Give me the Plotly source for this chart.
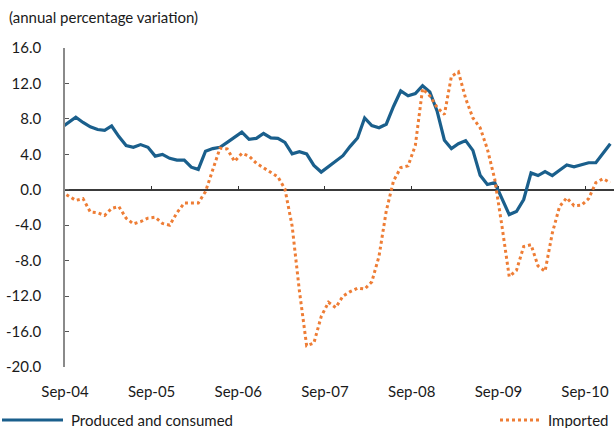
import pandas as pd
import plotly.graph_objects as go

# ---- data (monthly, Aug-04 .. Dec-10) ----
months = pd.date_range("2004-08-01", periods=77, freq="MS")

produced_consumed = [
    7.0, 7.6, 8.2, 7.6, 7.1, 6.8, 6.7, 7.2, 6.0, 5.0, 4.8, 5.1, 4.8,
    3.8, 4.0, 3.55, 3.35, 3.35, 2.55, 2.3, 4.35, 4.65, 4.8, 5.35, 5.95, 6.5,
    5.7, 5.8, 6.35, 5.85, 5.8, 5.35, 4.05, 4.3, 4.05, 2.75, 2.0,
    2.6, 3.2, 3.85, 4.9, 5.85, 8.1, 7.25, 7.0, 7.4, 9.4, 11.15, 10.6,
    10.85, 11.75, 11.05, 8.9, 5.6, 4.65, 5.2, 5.55, 4.45, 1.65, 0.6, 0.8,
    -1.1, -2.8, -2.45, -1.1, 1.9, 1.6, 2.05, 1.6, 2.2, 2.8, 2.6, 2.85,
    3.05, 3.05, 4.15, 5.2,
]

imported = [
    -0.2, -0.7, -1.2, -1.0, -2.5, -2.6, -2.9, -2.1, -1.9, -3.2, -3.85, -3.6, -3.2,
    -3.1, -3.8, -4.0, -2.6, -1.5, -1.5, -1.5, -0.2, 2.3, 4.7, 4.6, 3.2, 4.1,
    3.8, 3.0, 2.5, 1.9, 1.45, 0.1, -4.1, -11.4, -17.6, -17.3, -14.3,
    -12.7, -13.3, -12.0, -11.5, -11.1, -11.2, -10.4, -7.5, -2.4, 1.0, 2.5, 2.7,
    5.0, 11.4, 10.6, 9.3, 8.5, 12.8, 13.3, 10.3, 8.1, 7.0, 4.6, 1.2,
    -4.1, -9.8, -9.1, -6.4, -6.2, -8.6, -9.2, -4.9, -1.9, -0.9, -1.8, -1.75,
    -1.0, 0.8, 1.25, 0.8,
]

x_tick_dates = ["2004-09-01", "2005-09-01", "2006-09-01", "2007-09-01",
                "2008-09-01", "2009-09-01", "2010-09-01"]
x_tick_labels = ["Sep-04", "Sep-05", "Sep-06", "Sep-07", "Sep-08", "Sep-09", "Sep-10"]
y_tick_values = [16, 12, 8, 4, 0, -4, -8, -12, -16, -20]
y_tick_labels = ["16.0", "12.0", "8.0", "4.0", "0.0", "-4.0", "-8.0", "-12.0", "-16.0", "-20.0"]

series_names = ["Produced and consumed", "Imported"]
BLUE = "#1a5f8c"
ORANGE = "#ee7d35"
TEXT = "#1a1a1a"
FONT = "Lato"
FS = 15

W, H = 614, 428
ML, MR, MT, MB = 65, 0, 48, 61
PW, PH = W - ML - MR, H - MT - MB


def px_x(px):
    return (px - ML) / PW


def px_y(py):
    return (H - MB - py) / PH


fig = go.Figure()
fig.add_trace(go.Scatter(
    x=months, y=produced_consumed, name=series_names[0], mode="lines",
    xperiod="M1", xperiodalignment="middle",
    line=dict(color=BLUE, width=3.2), showlegend=False,
))
fig.add_trace(go.Scatter(
    x=months, y=imported, name=series_names[1], mode="lines",
    xaxis="x2", xperiod="M1", xperiodalignment="middle",
    line=dict(color=ORANGE, width=3, dash="dot"), showlegend=False,
))

x_range = ["2004-09-01", "2011-01-01"]

fig.update_layout(
    width=W, height=H,
    margin=dict(l=ML, r=MR, t=MT, b=MB, autoexpand=False),
    paper_bgcolor="white", plot_bgcolor="white",
    font=dict(family=FONT, size=FS, color=TEXT),
    showlegend=False,
    xaxis=dict(
        type="date", range=x_range, tickvals=x_tick_dates, ticktext=x_tick_labels,
        ticks="", showline=False, showgrid=False, zeroline=False, automargin=False,
        ticklabelstandoff=14, tickfont=dict(size=FS, color=TEXT),
    ),
    xaxis2=dict(
        type="date", range=x_range, overlaying="x", matches="x", anchor="free",
        position=20 / 36, tickvals=x_tick_dates, ticks="inside", ticklen=4,
        tickwidth=1.3, tickcolor="#333333", automargin=False,
        showticklabels=False, showline=False,
        showgrid=False, zeroline=False, layer="below traces",
    ),
    yaxis=dict(
        range=[-20, 16], tickvals=y_tick_values, ticktext=y_tick_labels,
        ticks="inside", ticklen=4, tickwidth=1.2, tickcolor="#555555",
        showline=True, linecolor="#8a8a8a", linewidth=1.5,
        showgrid=False, zeroline=True, zerolinecolor="#3a3a3a", zerolinewidth=1.6,
        automargin=False, ticklabelstandoff=19,
        tickfont=dict(size=FS, color=TEXT),
    ),
)

fig.add_annotation(
    text="(annual percentage variation)", xref="paper", yref="paper",
    x=px_x(7), y=px_y(17), xanchor="left", yanchor="middle",
    showarrow=False, font=dict(size=FS, color=TEXT),
)

# legend (manual, to match the reference placement)
legend_y = px_y(420)
fig.add_shape(type="line", xref="paper", yref="paper",
              x0=px_x(2), x1=px_x(63), y0=legend_y, y1=legend_y,
              line=dict(color=BLUE, width=3.2))
fig.add_annotation(text=series_names[0], xref="paper", yref="paper",
                   x=px_x(69), y=legend_y, xanchor="left", yanchor="middle",
                   showarrow=False, font=dict(size=FS, color=TEXT))
fig.add_shape(type="line", xref="paper", yref="paper",
              x0=px_x(500), x1=px_x(542), y0=legend_y, y1=legend_y,
              line=dict(color=ORANGE, width=3, dash="dot"))
fig.add_annotation(text=series_names[1], xref="paper", yref="paper",
                   x=px_x(546), y=legend_y, xanchor="left", yanchor="middle",
                   showarrow=False, font=dict(size=FS, color=TEXT))

fig.write_html(
    "out.html",
    config={"displayModeBar": False},
    post_script="document.body.style.margin='0';document.body.style.overflow='hidden';",
)
